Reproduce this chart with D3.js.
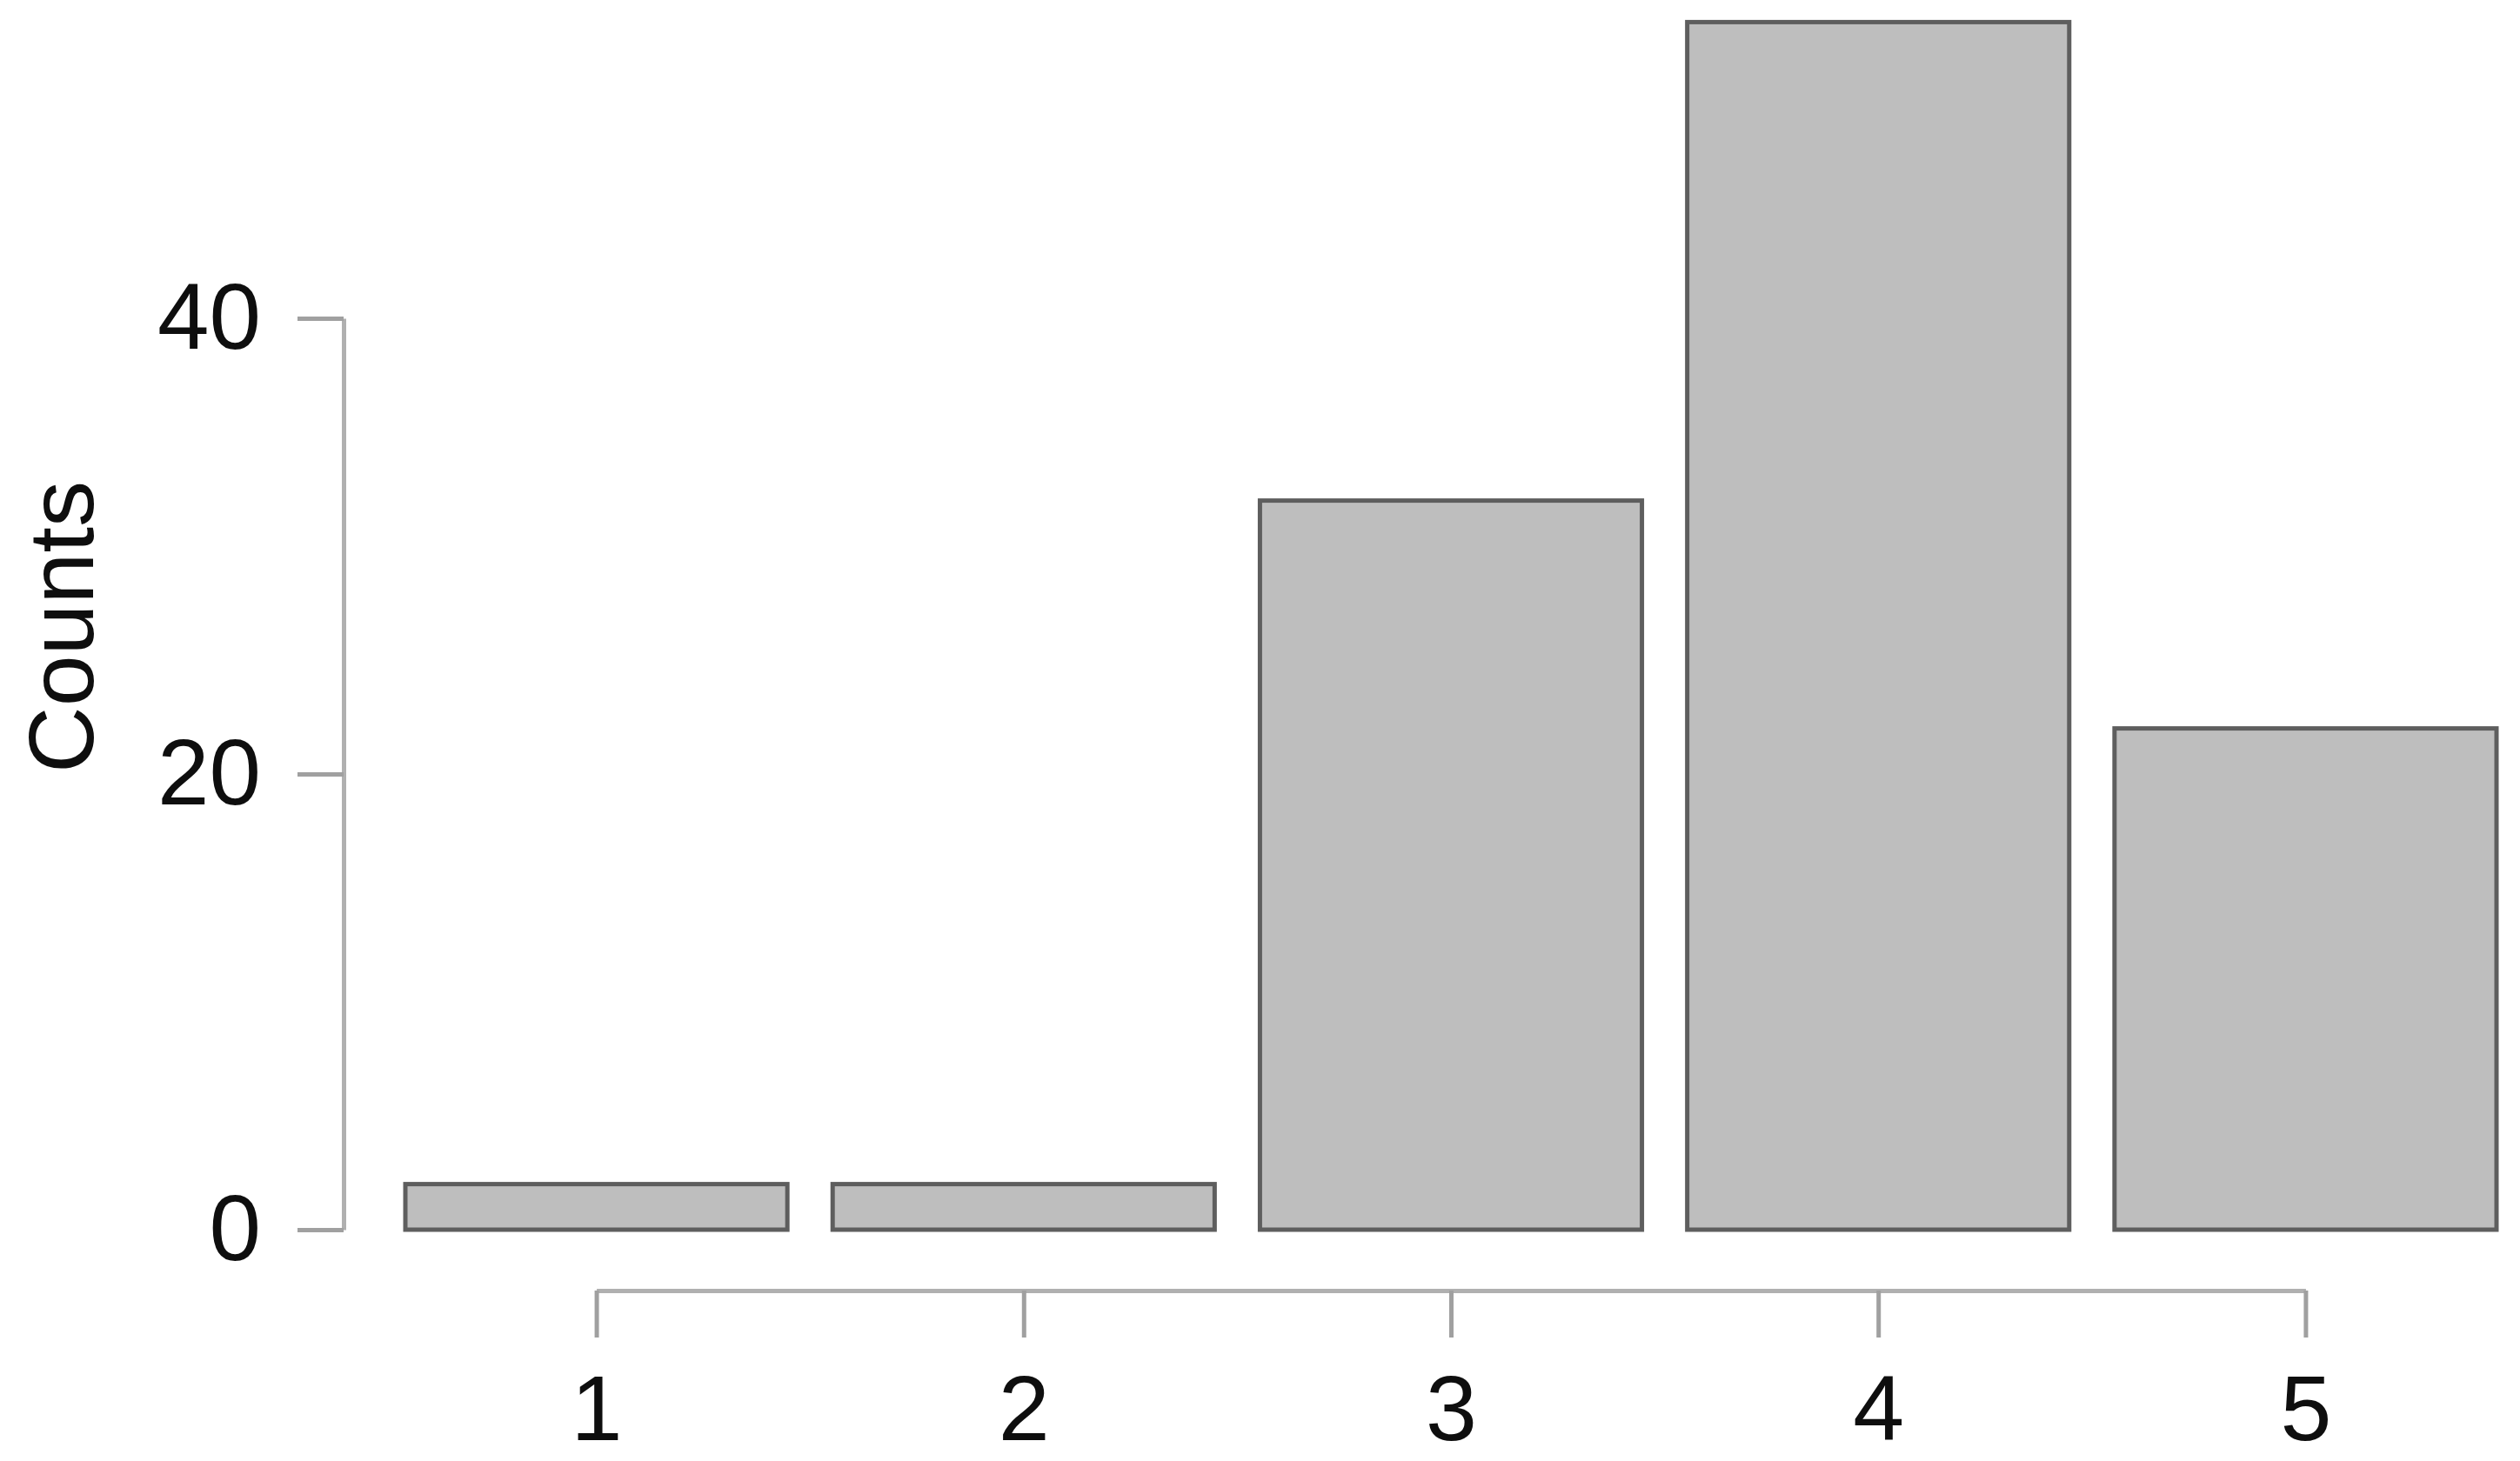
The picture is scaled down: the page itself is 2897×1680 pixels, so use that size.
<!DOCTYPE html>
<html>
<head>
<meta charset="utf-8">
<script src="https://cdn.jsdelivr.net/npm/d3@7"></script>
<style>
  html, body { margin: 0; padding: 0; background: #ffffff; }
  svg { display: block; }
</style>
</head>
<body>
<svg id="chart" width="2897" height="1680"></svg>
<script>
// ---- data ----
const categories = ["1", "2", "3", "4", "5"];
const counts = [2, 2, 32, 53, 22];
const yTickValues = [0, 20, 40];
const yLabel = "Counts";

// ---- layout ----
const W = 2897, H = 1680;
const font = "'Liberation Sans', Arial, Helvetica, sans-serif";
const svg = d3.select("#chart");

const y = d3.scaleLinear().domain([0, 40]).range([1414, 366]);
const x = d3.scaleBand().domain(categories).range([466, 2870])
  .paddingInner(0.106).paddingOuter(0);

// bars
svg.append("g").selectAll("rect")
  .data(categories.map((c, i) => ({ c, v: counts[i] })))
  .join("rect")
  .attr("x", d => x(d.c))
  .attr("width", x.bandwidth())
  .attr("y", d => y(d.v))
  .attr("height", d => y(0) - y(d.v))
  .attr("fill", "#bebebe")
  .attr("stroke", "#5e5e5e")
  .attr("stroke-width", 5);

// y axis
const yAxis = svg.append("g")
  .attr("transform", "translate(395,0)")
  .call(d3.axisLeft(y).tickValues(yTickValues).tickSize(53).tickSizeOuter(0).tickPadding(42));
yAxis.select(".domain").attr("stroke", "#b0b0b0").attr("stroke-width", 5);
yAxis.selectAll(".tick line").attr("stroke", "#a0a0a0").attr("stroke-width", 5);
yAxis.selectAll(".tick text")
  .attr("font-family", font).attr("font-size", 107).attr("fill", "#0e0e0e");

// x axis (from first to last bar centre)
const xp = d3.scalePoint().domain(categories)
  .range([x(categories[0]) + x.bandwidth() / 2, x(categories[categories.length - 1]) + x.bandwidth() / 2]);
const xAxis = svg.append("g")
  .attr("transform", "translate(0,1484)")
  .call(d3.axisBottom(xp).tickSize(54).tickSizeOuter(0).tickPadding(43));
xAxis.select(".domain").attr("stroke", "#b0b0b0").attr("stroke-width", 5);
xAxis.selectAll(".tick line").attr("stroke", "#a0a0a0").attr("stroke-width", 5);
xAxis.selectAll(".tick text")
  .attr("font-family", font).attr("font-size", 106).attr("fill", "#0e0e0e");

// y label
svg.append("text")
  .attr("transform", "translate(107,721) rotate(-90)")
  .attr("text-anchor", "middle")
  .attr("font-family", font)
  .attr("font-size", 106)
  .attr("fill", "#0e0e0e")
  .text(yLabel);
</script>
</body>
</html>
